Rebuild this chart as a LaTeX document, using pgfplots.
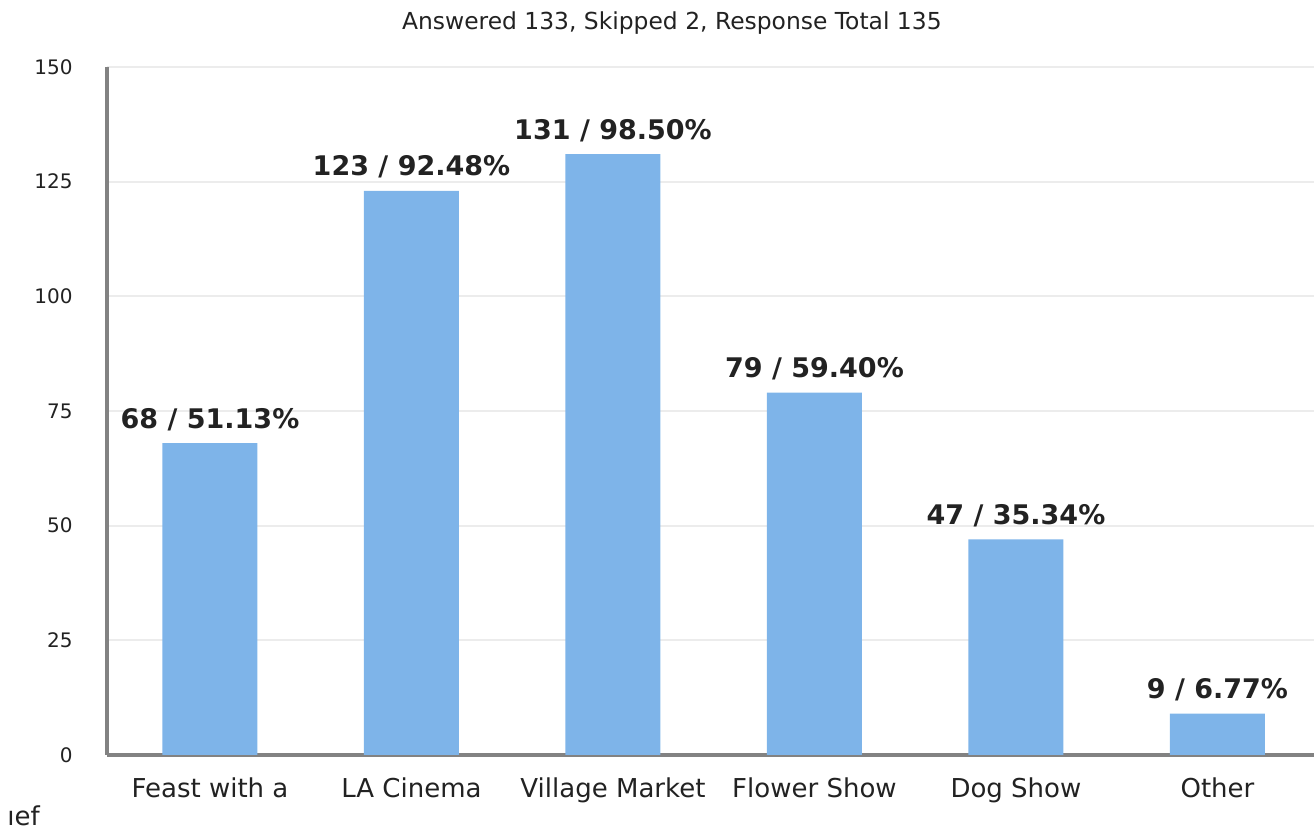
\documentclass[border=0pt]{standalone}
\usepackage{pgfplots}
\pgfplotsset{compat=1.18}
\usepackage{fontspec}
\setmainfont{DejaVu Sans}
\definecolor{barblue}{RGB}{126,180,233}
\definecolor{axisgray}{RGB}{130,130,130}
\definecolor{gridgray}{RGB}{236,236,236}
\definecolor{txt}{RGB}{34,34,34}
\begin{document}
\begin{tikzpicture}
  \begin{axis}[
    at={(0,0)}, anchor=south west,
    scale only axis, width=603.5pt, height=344pt,
    ybar, bar width=47.5pt,
    xmin=-0.511, xmax=5.479, ymin=0, ymax=150,
    ytick={0,25,...,150},
    xtick=data,
    xticklabels={Feast with a, LA Cinema, Village Market, Flower Show, Dog Show, Other},
    axis x line*=bottom, axis y line*=left,
    axis line style={axisgray, line width=2pt, -},
    major tick length=0pt,
    ymajorgrids, grid style={gridgray, line width=1pt},
    /pgf/number format/assume math mode=true,
    xticklabel style={font=\fontsize{13}{15}\selectfont, text=txt, anchor=base, inner sep=0pt, yshift=-21pt},
    yticklabel style={font=\fontsize{10}{12}\selectfont, text=txt, anchor=east, inner sep=0pt, xshift=-17pt},
    nodes near coords={\textbf{\pgfplotspointmeta}},
    point meta=explicit symbolic,
    nodes near coords style={font=\fontsize{13.5}{15}\selectfont, text=txt, anchor=base, inner sep=0pt, yshift=7.5pt},
    clip=false,
  ]
    \addplot[fill=barblue, draw=none] coordinates {
      (0,68) [68 / 51.13\%]
      (1,123) [123 / 92.48\%]
      (2,131) [131 / 98.50\%]
      (3,79) [79 / 59.40\%]
      (4,47) [47 / 35.34\%]
      (5,9) [9 / 6.77\%]
    };
    \node[anchor=base, font=\fontsize{11.7}{14}\selectfont, text=txt] at (rel axis cs:0.468,1) [yshift=18.5pt] {Answered 133, Skipped 2, Response Total 135};
  \end{axis}
  % cut-off second line of the first category label
  \node[anchor=base west, inner sep=0pt, font=\fontsize{13}{15}\selectfont, text=txt] at (-50pt,-35pt) {ıef};
  \pgfresetboundingbox
  \path (-53.5pt,-38pt) rectangle (603.5pt,377.5pt);
\end{tikzpicture}
\end{document}
